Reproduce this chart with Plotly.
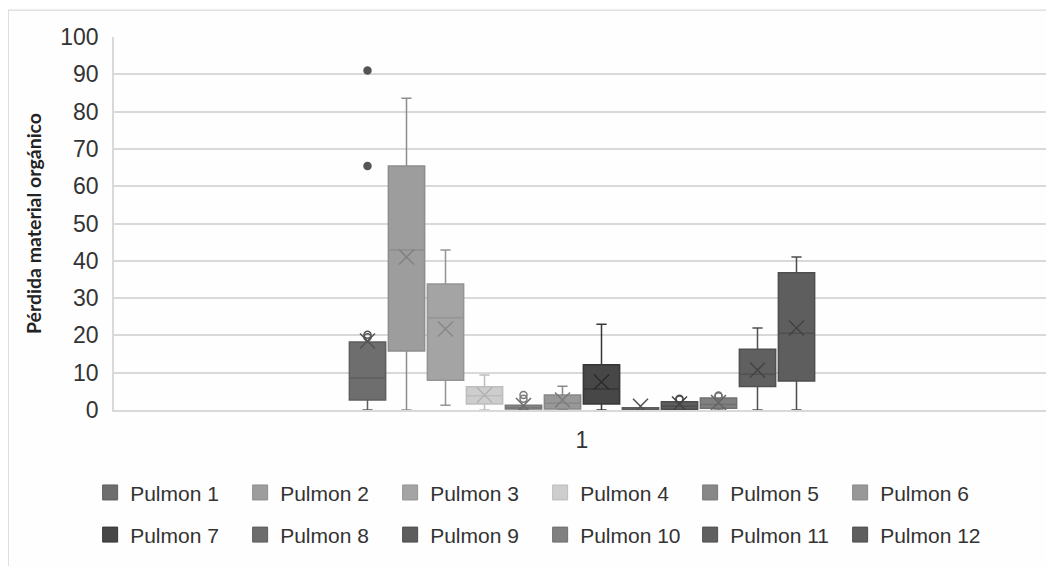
import plotly.graph_objects as go

names = ["Pulmon 1", "Pulmon 2", "Pulmon 3", "Pulmon 4", "Pulmon 5", "Pulmon 6",
         "Pulmon 7", "Pulmon 8", "Pulmon 9", "Pulmon 10", "Pulmon 11", "Pulmon 12"]
q1 = [2.7, 15.8, 8.0, 1.6, 0.3, 0.3, 1.6, 0.0, 0.2, 0.5, 6.3, 7.8]
median = [8.6, 42.9, 24.7, 3.8, 0.7, 1.8, 5.6, 0.2, 1.0, 1.5, 9.6, 20.6]
q3 = [18.2, 65.4, 33.8, 6.2, 1.3, 4.0, 12.1, 0.6, 2.2, 3.2, 16.3, 36.8]
lower = [0.0, 0.0, 1.3, 0.0, 0.0, 0.0, 0.0, 0.0, 0.0, 0.0, 0.0, 0.0]
upper = [18.2, 83.6, 42.9, 9.4, 1.3, 6.4, 23.0, 0.6, 2.2, 3.2, 22.0, 41.0]
means = [18.5, 41.0, 21.7, 4.0, 1.2, 2.7, 7.5, 1.0, 1.6, 2.0, 10.7, 22.0]
outliers = [[91.0, 65.4, 19.5, 20.2], [], [], [], [3.0, 4.0], [], [], [], [2.8, 3.0], [3.7, 3.9], [], []]
category_label = ["1"]
fills = ["#6e6e6e", "#9d9d9d", "#a4a4a4", "#cdcdcd", "#888888", "#989898",
         "#474747", "#6d6d6d", "#5d5d5d", "#808080", "#606060", "#5e5e5e"]


def darken(hexc, amt=22):
    r, g, b = (int(hexc[i:i + 2], 16) for i in (1, 3, 5))
    return "#%02x%02x%02x" % tuple(max(0, c - amt) for c in (r, g, b))


lines = [darken(c, 16) for c in fills]
mean_colors = [darken(c, 28) for c in fills]
positions = list(range(len(names)))
center = (positions[0] + positions[-1]) / 2

fig = go.Figure()
for i, n in enumerate(names):
    fig.add_trace(go.Box(
        x=[positions[i]], q1=[q1[i]], median=[median[i]], q3=[q3[i]],
        lowerfence=[lower[i]], upperfence=[upper[i]],
        width=0.93, whiskerwidth=0.28, fillcolor=fills[i],
        line=dict(color=lines[i], width=1.5), boxpoints=False,
        showlegend=False, hoverinfo="skip"))
    if outliers[i]:
        big = i == 0
        col = "#555555" if big else lines[i]
        fig.add_trace(go.Scatter(
            x=[positions[i]] * len(outliers[i]), y=outliers[i], mode="markers",
            marker=dict(symbol=["circle"] * 2 + ["circle-open"] * 2 if big else "circle-open",
                        size=7, color=col, line=dict(width=1.5, color=col)),
            showlegend=False, hoverinfo="skip"))

fig.add_trace(go.Scatter(
    x=positions, y=means, mode="markers",
    marker=dict(symbol="x-thin-open", size=15, color=mean_colors,
                line=dict(width=1.5, color=mean_colors)),
    showlegend=False, hoverinfo="skip"))

for i, n in enumerate(names):
    fig.add_trace(go.Scatter(
        x=[None], y=[None], mode="markers", name=n,
        marker=dict(symbol="square", size=15, color=fills[i], line=dict(color=lines[i], width=1)),
        legend="legend" if i < 6 else "legend2"))

legend_common = dict(orientation="h", xanchor="left", yanchor="middle",
                     entrywidth=105, entrywidthmode="pixels", itemwidth=30,
                     font=dict(family="Liberation Sans, Arial", size=21, color="#333333"),
                     bgcolor="rgba(0,0,0,0)", tracegroupgap=0)

fig.update_layout(
    width=1046, height=558,
    margin=dict(l=106, r=4, t=29, b=156),
    paper_bgcolor="#fefefe", plot_bgcolor="#fefefe",
    font=dict(family="Liberation Sans, Arial", color="#333333"),
    legend=dict(x=-0.0255, y=-0.222, **legend_common),
    legend2=dict(x=-0.0255, y=-0.335, **legend_common),
    yaxis=dict(range=[0, 100], dtick=10, showgrid=True, gridcolor="#d9d9d9", gridwidth=1.5,
               zeroline=False, showline=True, linecolor="#d9d9d9", linewidth=1.5,
               tickfont=dict(size=23, color="#333333"), ticklabelstandoff=9,
               title=dict(text="Pérdida material orgánico", standoff=13,
                          font=dict(family="Lato", size=19.5, color="#222222", weight="bold"))),
    xaxis=dict(range=[center - 12, center + 12], tickvals=[center], ticktext=category_label,
               showgrid=False, zeroline=False, showline=True, linecolor="#d9d9d9", linewidth=1.5,
               tickfont=dict(size=23, color="#333333"), ticklabelstandoff=9),
    shapes=[dict(type="rect", xref="paper", yref="paper", x0=-0.113, x1=1.02, y0=1.072, y1=-0.45,
                 line=dict(color="#d9d9d9", width=1.2), fillcolor="rgba(0,0,0,0)", layer="below")],
)

fig.write_html("out.html")
